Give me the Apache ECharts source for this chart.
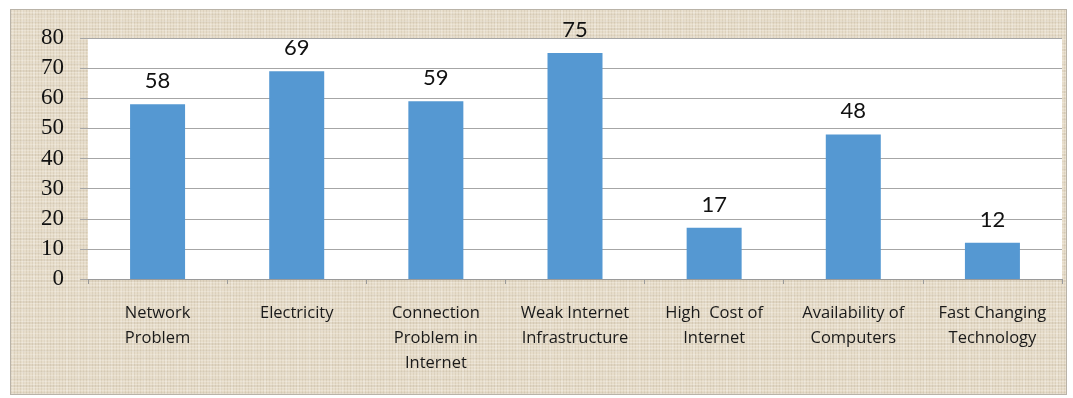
<!DOCTYPE html>
<html>
<head>
<meta charset="utf-8">
<script src="https://cdn.jsdelivr.net/npm/echarts@6/dist/echarts.min.js"></script>
<style>
  html, body { margin: 0; padding: 0; background: #ffffff; }
  #frame {
    position: absolute; left: 10px; top: 9px; width: 1057px; height: 386px;
    border: 1px solid #b9b3a8; box-sizing: border-box;
    background-color: #e7ddca;
    background-image:
      repeating-linear-gradient(0deg, rgba(255,255,255,0.22) 0px, rgba(255,255,255,0.22) 1px, rgba(0,0,0,0) 1px, rgba(0,0,0,0) 3px),
      repeating-linear-gradient(90deg, rgba(120,100,70,0.10) 0px, rgba(120,100,70,0.10) 1px, rgba(0,0,0,0) 1px, rgba(0,0,0,0) 3px),
      repeating-linear-gradient(0deg, rgba(120,100,70,0.07) 0px, rgba(120,100,70,0.07) 2px, rgba(0,0,0,0) 2px, rgba(0,0,0,0) 7px),
      repeating-linear-gradient(90deg, rgba(255,255,255,0.15) 0px, rgba(255,255,255,0.15) 2px, rgba(0,0,0,0) 2px, rgba(0,0,0,0) 11px);
  }
  #chart { position: absolute; left: 0; top: 0; width: 1073px; height: 398px; }
</style>
</head>
<body>
<div id="frame"></div>
<div id="chart"></div>
<script>
const categories = [
  "Network\nProblem",
  "Electricity",
  "Connection\nProblem in\nInternet",
  "Weak Internet\nInfrastructure",
  "High  Cost of\nInternet",
  "Availability of\nComputers",
  "Fast Changing\nTechnology"
];
const values = [58, 69, 59, 75, 17, 48, 12];
const yTicks = { min: 0, max: 80, interval: 10 };

const chart = echarts.init(document.getElementById('chart'), null, { renderer: 'canvas' });
chart.setOption({
  backgroundColor: 'transparent',
  animation: false,
  grid: {
    left: 88, right: 11, top: 38, bottom: 119,
    show: true, backgroundColor: '#ffffff', borderWidth: 0
  },
  xAxis: {
    type: 'category',
    data: categories,
    axisLine: { show: true, lineStyle: { color: '#9a9a9a', width: 1 } },
    axisTick: { show: true, length: 5, lineStyle: { color: '#9a9a9a' } },
    axisLabel: {
      interval: 0,
      margin: 22,
      fontFamily: 'Open Sans',
      fontSize: 16.5,
      lineHeight: 25,
      color: '#1a1a1a'
    },
    splitLine: { show: false }
  },
  yAxis: {
    type: 'value',
    min: yTicks.min, max: yTicks.max, interval: yTicks.interval,
    axisLine: { show: false },
    axisTick: { show: true, length: 8, lineStyle: { color: '#a6a6a6' } },
    axisLabel: {
      margin: 24,
      fontFamily: 'Liberation Serif',
      fontSize: 23,
      color: '#111111'
    },
    splitLine: { show: true, lineStyle: { color: '#a6a6a6', width: 1 } }
  },
  series: [{
    type: 'bar',
    data: values,
    barWidth: 55,
    itemStyle: { color: '#5598d2' },
    label: {
      show: true,
      position: 'top',
      distance: 12,
      fontFamily: 'Lato',
      fontSize: 22,
      color: '#111111'
    }
  }]
});
</script>
</body>
</html>
